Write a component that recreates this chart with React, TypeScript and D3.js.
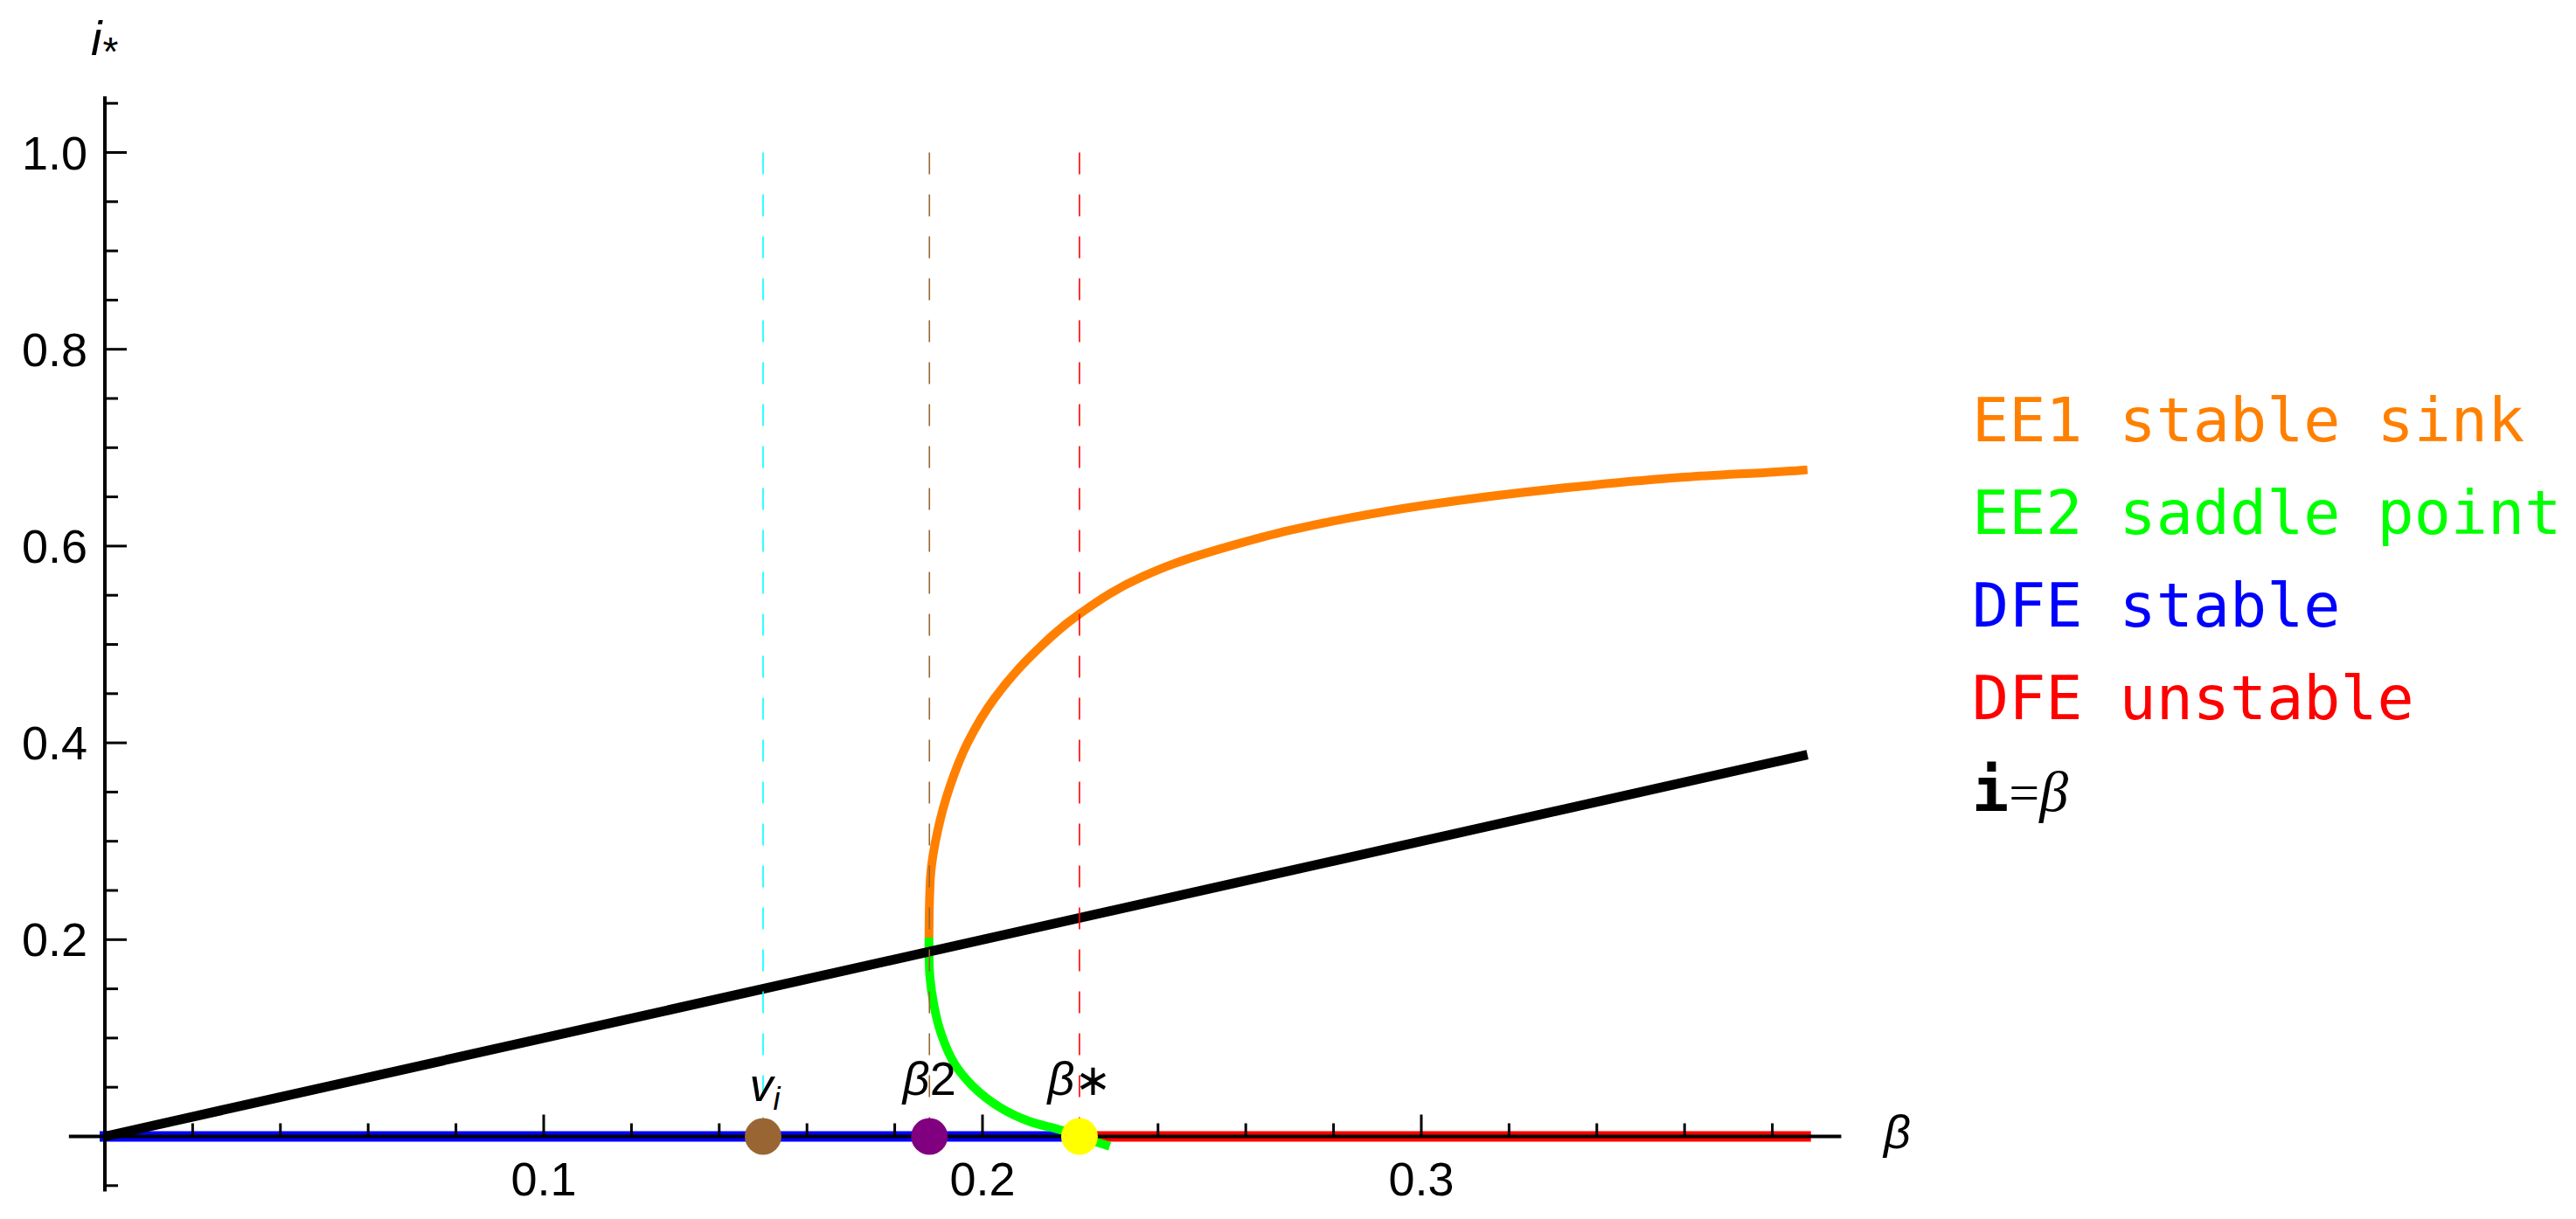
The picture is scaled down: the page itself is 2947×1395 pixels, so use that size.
import React from "react";
import * as d3 from "d3";

// ---------- data ----------
const ee1Beta = [0.1878, 0.1879, 0.1882, 0.1898, 0.1926, 0.1966, 0.2026, 0.2112, 0.2221, 0.2365, 0.2436, 0.2564, 0.27, 0.2829, 0.3, 0.3347, 0.36, 0.3865, 0.388];
const ee1I = [0.202, 0.235, 0.267, 0.311, 0.356, 0.4, 0.4445, 0.489, 0.531, 0.569, 0.582, 0.6, 0.616, 0.628, 0.641, 0.66, 0.67, 0.677, 0.6775];

const ee2Beta = [0.1878, 0.1878, 0.188, 0.1889, 0.1906, 0.1936, 0.1978, 0.2038, 0.2105, 0.2177, 0.2221, 0.229];
const ee2I = [0.202, 0.19, 0.163, 0.134, 0.104, 0.074, 0.051, 0.03, 0.0155, 0.0067, 0.0, -0.01];

const dfeStableBeta = [0, 0.2221];
const dfeUnstableBeta = [0.2221, 0.3876];
const diagBeta = [0, 0.388];

const markerBeta = [0.15, 0.1879, 0.2221];
const markerColors = ["#996633", "#800080", "#FFFF00"];
const dashColors = ["#00FFFF", "#996633", "#FF0000"];

const xMajorTicks = [0.1, 0.2, 0.3];
const xMinorTicks = [0.02, 0.04, 0.06, 0.08, 0.12, 0.14, 0.16, 0.18, 0.22, 0.24, 0.26, 0.28, 0.32, 0.34, 0.36, 0.38];
const yMajorTicks = [0.2, 0.4, 0.6, 0.8, 1.0];
const yMinorTicks = [-0.05, 0.05, 0.1, 0.15, 0.25, 0.3, 0.35, 0.45, 0.5, 0.55, 0.65, 0.7, 0.75, 0.85, 0.9, 0.95, 1.05];

const legendLabels = ["EE1 stable sink", "EE2 saddle point", "DFE stable", "DFE unstable"];
const legendColors = ["#FF8000", "#00FF00", "#0000FF", "#FF0000"];

// ---------- layout ----------
const W = 2947;
const H = 1395;
const x = d3.scaleLinear().domain([0, 0.1]).range([120, 622]);
const y = d3.scaleLinear().domain([0, 1]).range([1300.5, 174.5]);

const SANS = "'Liberation Sans', Arial, sans-serif";
const MONO = "'DejaVu Sans Mono', monospace";
const SERIF = "'Liberation Serif', 'DejaVu Serif', serif";

export default function App() {
  const smoothY = d3
    .line<[number, number]>()
    .x((d) => x(d[0]))
    .y((d) => y(d[1]))
    .curve(d3.curveMonotoneY);
  const curve = d3
    .line<[number, number]>()
    .x((d) => x(d[0]))
    .y((d) => y(d[1]))
    .curve(d3.curveCatmullRom.alpha(0.5));
  const straight = d3
    .line<[number, number]>()
    .x((d) => x(d[0]))
    .y((d) => y(d[1]));

  // ordered by increasing screen y (decreasing i)
  const ee1: [number, number][] = ee1Beta.map((b, k) => [b, ee1I[k]] as [number, number]).reverse();
  const ee2: [number, number][] = ee2Beta.map((b, k) => [b, ee2I[k]]);

  const x0 = x(0);
  const y0 = y(0);

  return (
    <svg
      width={W}
      height={H}
      viewBox={`0 0 ${W} ${H}`}
      style={{ position: "absolute", left: 0, top: 0, display: "block", background: "#fff" }}
    >
      <rect x={0} y={0} width={W} height={H} fill="#fff" />

      {/* DFE lines */}
      <path d={straight(dfeStableBeta.map((b) => [b, 0]) as [number, number][]) || ""} stroke="#0000FF" strokeWidth={12} fill="none" strokeLinecap="square" />
      <path d={straight(dfeUnstableBeta.map((b) => [b, 0]) as [number, number][]) || ""} stroke="#FF0000" strokeWidth={12} fill="none" strokeLinecap="square" />

      {/* EE curves */}
      <path d={smoothY(ee1) || ""} stroke="#FF8000" strokeWidth={10} fill="none" />
      <path d={curve(ee2) || ""} stroke="#00FF00" strokeWidth={10} fill="none" />

      {/* i = beta */}
      <path d={straight(diagBeta.map((b) => [b, b]) as [number, number][]) || ""} stroke="#000" strokeWidth={11} fill="none" />

      {/* axes */}
      <line x1={x(-0.0082)} x2={x(0.3957)} y1={y0} y2={y0} stroke="#000" strokeWidth={4} />
      <line x1={x0} x2={x0} y1={y(1.057)} y2={y(-0.056)} stroke="#000" strokeWidth={4} />
      {xMajorTicks.map((t) => (
        <g key={"xM" + t}>
          <line x1={x(t)} x2={x(t)} y1={y0} y2={y0 - 25} stroke="#000" strokeWidth={3} />
          <text x={x(t)} y={y0 + 67} fontFamily={SANS} fontSize={54} textAnchor="middle">
            {d3.format(".1f")(t)}
          </text>
        </g>
      ))}
      {xMinorTicks.map((t) => (
        <line key={"xm" + t} x1={x(t)} x2={x(t)} y1={y0} y2={y0 - 15} stroke="#000" strokeWidth={3} />
      ))}
      {yMajorTicks.map((t) => (
        <g key={"yM" + t}>
          <line x1={x0} x2={x0 + 25} y1={y(t)} y2={y(t)} stroke="#000" strokeWidth={3} />
          <text x={x0 - 20} y={y(t) + 19} fontFamily={SANS} fontSize={54} textAnchor="end">
            {d3.format(".1f")(t)}
          </text>
        </g>
      ))}
      {yMinorTicks.map((t) => (
        <line key={"ym" + t} x1={x0} x2={x0 + 15} y1={y(t)} y2={y(t)} stroke="#000" strokeWidth={3} />
      ))}

      {/* axis labels */}
      <text x={104} y={63} fontFamily={SANS} fontSize={56} fontStyle="italic">
        i
        <tspan fontSize={46} dy={12} dx={1} fontStyle="normal">*</tspan>
      </text>
      <text x={2155} y={1314} fontFamily={SANS} fontSize={54} fontStyle="italic">β</text>

      {/* dashed reference lines */}
      {markerBeta.map((b, k) => (
        <line
          key={"d" + k}
          x1={x(b)}
          x2={x(b)}
          y1={y(1.0)}
          y2={y0}
          stroke={dashColors[k]}
          strokeWidth={1.6}
          strokeDasharray="25 23"
        />
      ))}

      {/* markers */}
      {markerBeta.map((b, k) => (
        <circle key={"m" + k} cx={x(b)} cy={y0} r={21} fill={markerColors[k]} />
      ))}

      {/* marker labels */}
      <text x={x(markerBeta[0]) + 2} y={1260} fontFamily={SANS} fontSize={54} fontStyle="italic" textAnchor="middle">
        v
        <tspan fontSize={36} dy={10}>i</tspan>
      </text>
      <text x={x(markerBeta[1])} y={1253} fontFamily={SANS} fontSize={54} textAnchor="middle">
        <tspan fontStyle="italic">β</tspan>2
      </text>
      <text x={x(markerBeta[2])} y={1253} fontFamily={SANS} fontSize={54} textAnchor="middle">
        <tspan fontStyle="italic">β</tspan>
        <tspan fontFamily="'DejaVu Sans', sans-serif" fontSize={50}>∗</tspan>
      </text>

      {/* legend */}
      {legendLabels.map((lab, k) => (
        <text
          key={"l" + k}
          x={2256}
          y={505 + k * 106}
          fontFamily={MONO}
          fontSize={70}
          fill={legendColors[k]}
          style={{ whiteSpace: "pre" }}
        >
          {lab}
        </text>
      ))}
      <text x={2256} y={928} fontSize={70} fill="#000">
        <tspan fontFamily={MONO} fontWeight="bold">i</tspan>
        <tspan fontFamily={SERIF} fontSize={62}>=</tspan>
        <tspan fontFamily={SERIF} fontSize={66} fontStyle="italic">β</tspan>
      </text>
    </svg>
  );
}
